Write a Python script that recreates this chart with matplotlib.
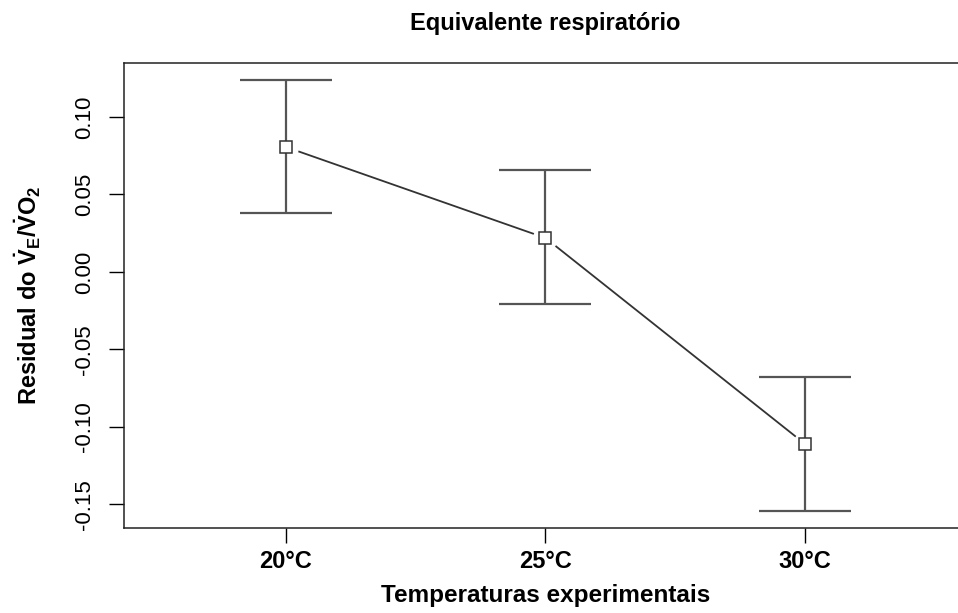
import matplotlib
matplotlib.use("Agg")
import matplotlib.pyplot as plt

plt.rcParams['font.family'] = ['Liberation Sans', 'DejaVu Sans']
plt.rcParams['mathtext.fontset'] = 'custom'
plt.rcParams['mathtext.rm'] = 'Liberation Sans:bold'
plt.rcParams['mathtext.bf'] = 'Liberation Sans:bold'
plt.rcParams['mathtext.it'] = 'Liberation Sans:bold'

# data
temps = ['20°C', '25°C', '30°C']
means = [0.0806, 0.0219, -0.1110]
upper = [0.1239, 0.0658, -0.0677]
lower = [0.0380, -0.0206, -0.1542]
yticks = [-0.15, -0.10, -0.05, 0.00, 0.05, 0.10]

x = [1, 2, 3]
err_lo = [m - l for m, l in zip(means, lower)]
err_hi = [u - m for u, m in zip(upper, means)]

fig = plt.figure(figsize=(9.58, 6.13), dpi=100)
ax = fig.add_axes([124/958, 85/613, 843/958, 465/613])

# connecting line (with gaps around points, like R type="b")
ax.plot(x, means, color='#333333', lw=1.3, zorder=1)
ax.plot(x, means, 'o', ms=17, mfc='white', mec='white', zorder=2)
ax.errorbar(x, means, yerr=[err_lo, err_hi], fmt='none', ecolor='#555555',
            elinewidth=1.6, capsize=33, capthick=1.6, zorder=3)
ax.plot(x, means, 's', ms=9, mfc='white', mec='#333333', mew=1.1, zorder=4)

ax.set_xlim(0.376, 3.624)
ax.set_ylim(-0.1652, 0.1348)
ax.set_xticks(x)
ax.set_xticklabels(temps, fontsize=17, fontweight='bold')
ax.set_yticks(yticks)
ax.set_yticklabels([f'{v:.2f}' for v in yticks], fontsize=16, rotation=90, va='center')
ax.tick_params(axis='y', length=11, width=1, pad=10)
ax.tick_params(axis='x', length=11, width=1, pad=5)
for s in ax.spines.values():
    s.set_linewidth(1.1)
    s.set_color('#222222')

ax.set_title('Equivalente respiratório', fontsize=17, fontweight='bold', pad=24)
ax.set_xlabel('Temperaturas experimentais', fontsize=17.5, fontweight='bold', labelpad=8)
ax.set_ylabel(r'Residual do $\dot{V}_E/\dot{V}O_2$', fontsize=17, fontweight='bold', labelpad=22)

fig.savefig('out.png', dpi=100)
